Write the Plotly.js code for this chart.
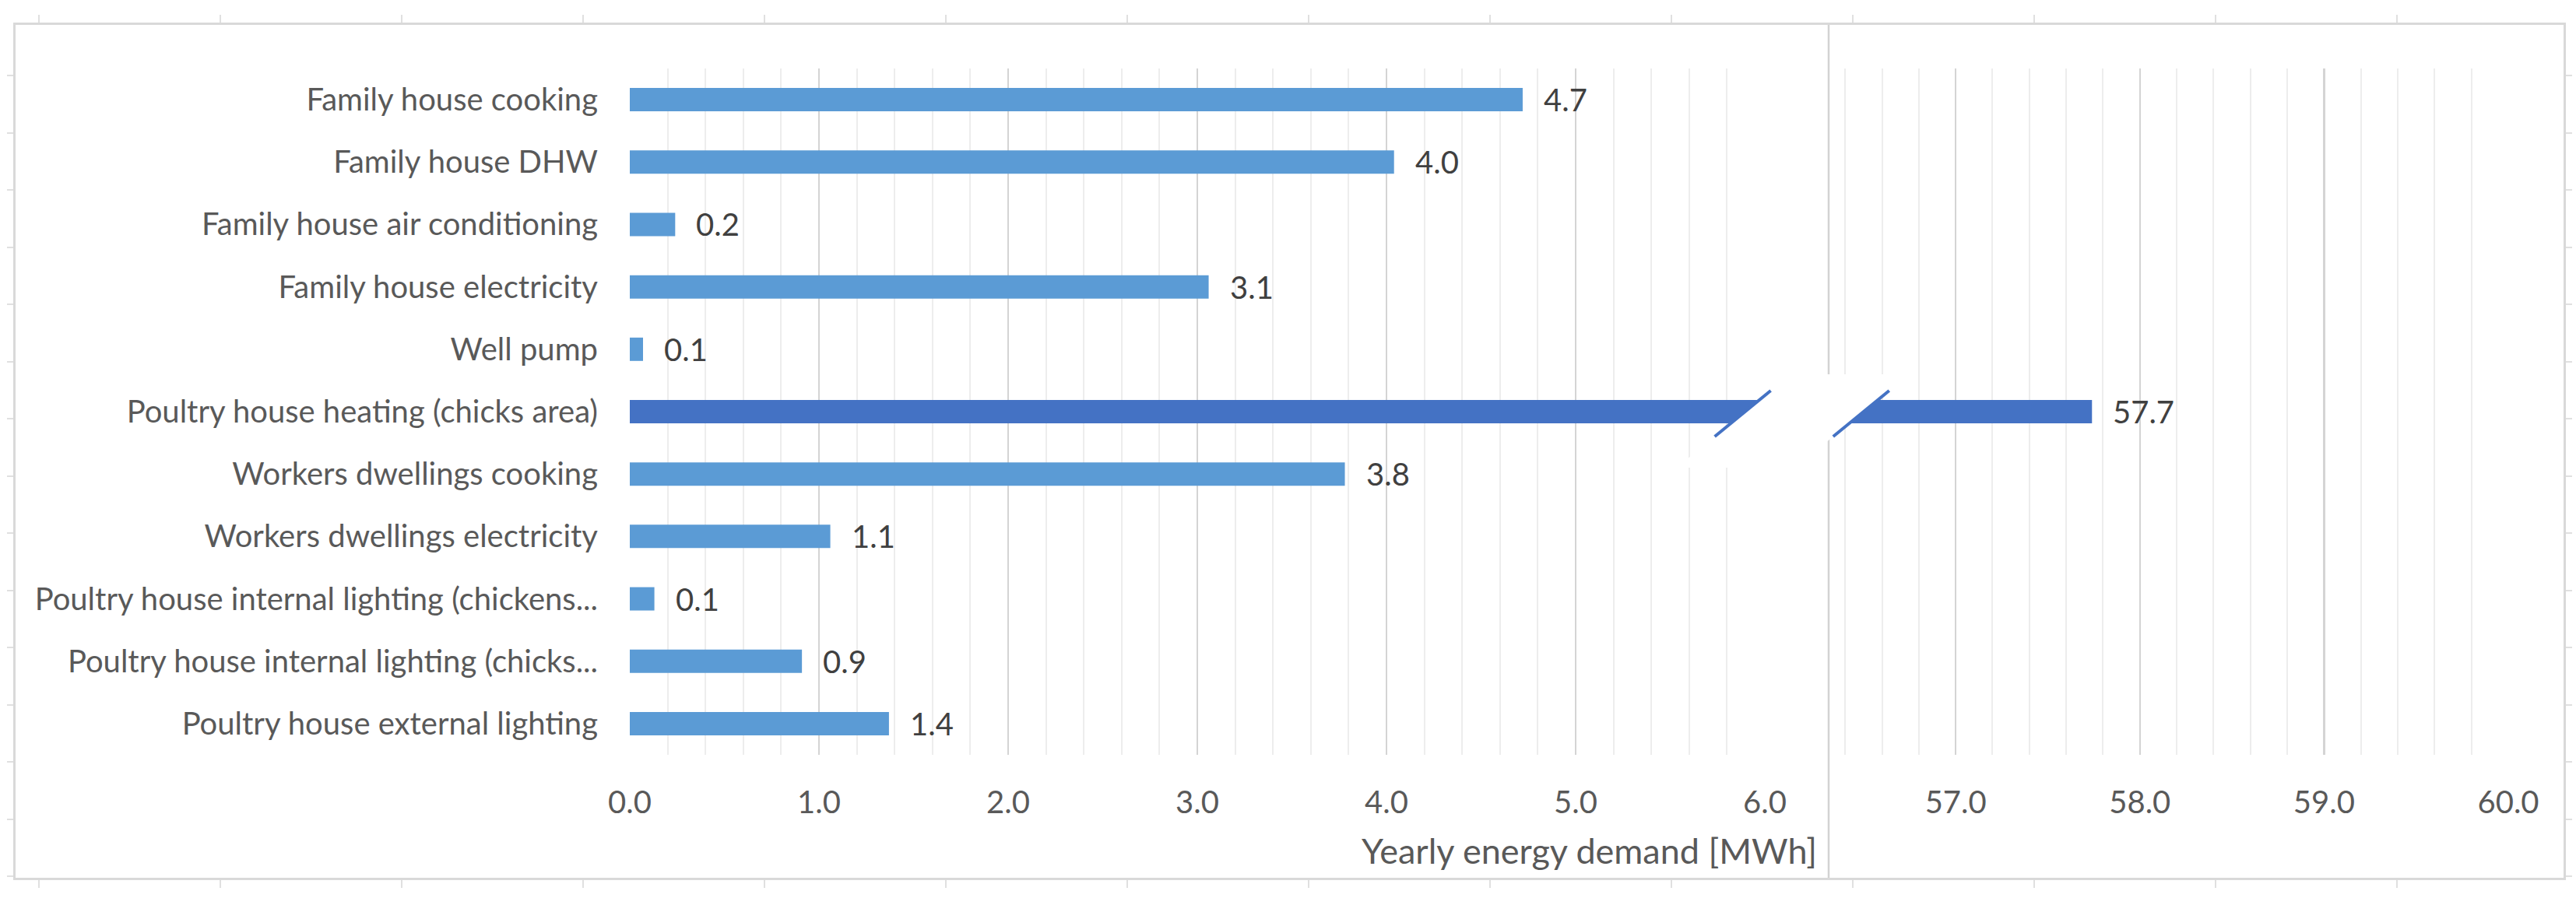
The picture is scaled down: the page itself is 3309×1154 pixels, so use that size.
<!DOCTYPE html>
<html>
<head>
<meta charset="utf-8">
<script src="https://cdn.plot.ly/plotly-3.0.1.min.js"></script>
<style>
  html, body { margin: 0; padding: 0; background: #fff; }
  #chart { width: 3309px; height: 1154px; }
</style>
</head>
<body>
<div id="chart"></div>
<script>
// chart data (top to bottom as shown)
const categories = [
    'Family house cooking',
    'Family house DHW',
    'Family house air conditioning',
    'Family house electricity',
    'Well pump',
    'Poultry house heating (chicks area)',
    'Workers dwellings cooking',
    'Workers dwellings electricity',
    'Poultry house internal lighting (chickens...',
    'Poultry house internal lighting (chicks...',
    'Poultry house external lighting'
];
const demandMWh = [4.72, 4.04, 0.24, 3.06, 0.07, 57.74, 3.78, 1.06, 0.13, 0.91, 1.37];
const brokenCategory = 'Poultry house heating (chicks area)';
const leftRange = [0, 6];
const rightRange = [56.34, 60];
const axisTitle = 'Yearly energy demand [MWh]';

const W = 3309, H = 1154;
const px = x => x / W;
const py = y => 1 - y / H;

// plot box in pixels
const plotTop = 88, plotBottom = 970;
const leftX0 = 809, leftX1 = 2267;
const rightX0 = 2356, rightX1 = 3222;
const frame = { x0: 20, y0: 32, x1: 3293, y1: 1128 };

const FONT = 'Lato, "Open Sans", sans-serif';
const labelFont = { family: FONT, size: 40, color: '#595959' };
const BLUE = '#5b9bd5';
const DARK_BLUE = '#4472c4';

const brokenIdx = categories.indexOf(brokenCategory);
const barColors = categories.map(c => c === brokenCategory ? DARK_BLUE : BLUE);

const traces = [
    {
        type: 'bar',
        orientation: 'h',
        y: categories,
        x: demandMWh,
        xaxis: 'x',
        yaxis: 'y',
        marker: { color: barColors, line: { width: 0 } },
        hoverinfo: 'skip'
    },
    {
        type: 'bar',
        orientation: 'h',
        y: [brokenCategory],
        x: [demandMWh[brokenIdx]],
        xaxis: 'x2',
        yaxis: 'y',
        marker: { color: DARK_BLUE, line: { width: 0 } },
        hoverinfo: 'skip'
    },
    // empty trace so the outer frame subplot gets drawn
    { type: 'scatter', x: [], y: [], xaxis: 'x3', yaxis: 'y3', hoverinfo: 'skip' }
];

// value labels
const annotations = categories.map((c, i) => ({
    x: demandMWh[i],
    y: c,
    xref: c === brokenCategory ? 'x2' : 'x',
    yref: 'y',
    text: demandMWh[i].toFixed(1),
    showarrow: false,
    xanchor: 'left',
    yanchor: 'middle',
    xshift: 25,
    font: { family: FONT, size: 40, color: '#404040' }
}));

annotations.push({
    x: px(2336), y: py(1093),
    xref: 'paper', yref: 'paper',
    text: axisTitle,
    showarrow: false,
    xanchor: 'right', yanchor: 'middle',
    font: { family: FONT, size: 45, color: '#595959' }
});

// axis break decoration around the broken bar
const rowH = (plotBottom - plotTop) / categories.length;
const yc = plotTop + (brokenIdx + 0.5) * rowH;
const slope = 1.22;
const cut1 = y => 2238 - (y - (yc + 3)) * slope;
const cut2 = y => 2392 - (y - (yc + 1.5)) * slope;
const gapTop = yc - 48, gapBottom = yc + 72;
const slashTop = yc - 27, slashBottom = yc + 32;
const pt = (x, y) => px(x).toFixed(5) + ',' + py(y).toFixed(5);

const shapes = [
    {   // divider between the two halves
        type: 'line', xref: 'paper', yref: 'paper',
        x0: px(2349), x1: px(2349), y0: py(frame.y0), y1: py(frame.y1),
        line: { color: '#d3d3d3', width: 2.5 }
    },
    {   // white gap
        type: 'path', xref: 'paper', yref: 'paper',
        path: 'M' + pt(cut1(gapTop), gapTop) + ' L' + pt(cut2(gapTop), gapTop) +
              ' L' + pt(cut2(gapBottom), gapBottom) + ' L' + pt(cut1(gapBottom), gapBottom) + ' Z',
        fillcolor: '#ffffff', line: { width: 0 }
    },
    {
        type: 'line', xref: 'paper', yref: 'paper',
        x0: px(cut1(slashBottom)), y0: py(slashBottom),
        x1: px(cut1(slashTop)), y1: py(slashTop),
        line: { color: DARK_BLUE, width: 4 }
    },
    {
        type: 'line', xref: 'paper', yref: 'paper',
        x0: px(cut2(slashBottom)), y0: py(slashBottom),
        x1: px(cut2(slashTop)), y1: py(slashTop),
        line: { color: DARK_BLUE, width: 4 }
    }
];

const valueAxis = {
    anchor: 'y',
    dtick: 1,
    tick0: 0,
    tickformat: '.1f',
    ticks: '',
    showline: false,
    zeroline: false,
    showgrid: true,
    gridcolor: '#d4d4d4',
    gridwidth: 2.5,
    minor: { dtick: 0.2, tick0: 0, showgrid: true, gridcolor: '#ededed', gridwidth: 2 },
    tickfont: labelFont,
    ticklabelstandoff: 34,
    fixedrange: true
};

const layout = {
    width: W,
    height: H,
    autosize: false,
    margin: { l: 0, r: 0, t: 0, b: 0, pad: 0 },
    paper_bgcolor: '#ffffff',
    plot_bgcolor: 'rgba(0,0,0,0)',
    showlegend: false,
    barmode: 'overlay',
    bargap: 0.626,
    font: { family: FONT, color: '#595959' },
    xaxis: Object.assign({}, valueAxis, {
        domain: [px(leftX0), px(leftX1)],
        range: leftRange
    }),
    xaxis2: Object.assign({}, valueAxis, {
        domain: [px(rightX0), px(rightX1)],
        range: rightRange
    }),
    yaxis: {
        anchor: 'x',
        domain: [py(plotBottom), py(plotTop)],
        type: 'category',
        categoryorder: 'array',
        categoryarray: categories,
        autorange: 'reversed',
        showgrid: false,
        zeroline: false,
        showline: false,
        ticks: '',
        tickfont: labelFont,
        ticklabelstandoff: 40,
        fixedrange: true
    },
    // outer frame with faint ruler ticks
    xaxis3: {
        anchor: 'y3',
        domain: [px(frame.x0), px(frame.x1)],
        range: [(frame.x0 - 50) / 233, (frame.x1 - 50) / 233],
        dtick: 1, tick0: 0,
        showticklabels: false, showgrid: false, zeroline: false,
        showline: true, linecolor: '#d9d9d9', linewidth: 3,
        mirror: 'ticks', ticks: 'outside', ticklen: 10, tickwidth: 2, tickcolor: '#e0e0e0',
        fixedrange: true
    },
    yaxis3: {
        anchor: 'x3',
        domain: [py(frame.y1), py(frame.y0)],
        range: [(97 - frame.y1) / 73.5, (97 - frame.y0) / 73.5],
        dtick: 1, tick0: 0,
        showticklabels: false, showgrid: false, zeroline: false,
        showline: true, linecolor: '#d9d9d9', linewidth: 3,
        mirror: 'ticks', ticks: 'outside', ticklen: 8, tickwidth: 2, tickcolor: '#e0e0e0',
        fixedrange: true
    },
    shapes: shapes,
    annotations: annotations
};

Plotly.newPlot('chart', traces, layout, { staticPlot: true, displayModeBar: false });
</script>
</body>
</html>
